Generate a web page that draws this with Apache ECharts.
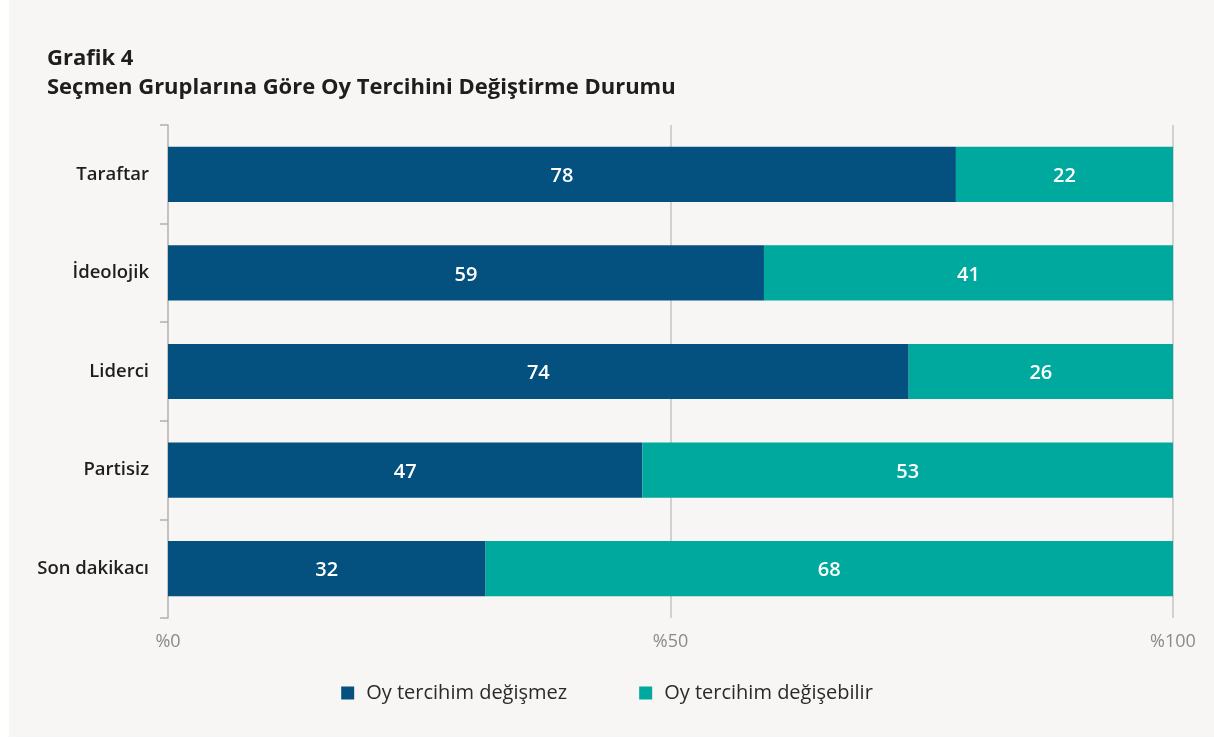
<!DOCTYPE html>
<html><head><meta charset="utf-8">
<script src="https://cdn.jsdelivr.net/npm/echarts@6/dist/echarts.min.js"></script>
<style>html,body{margin:0;padding:0;background:#fff}#c{width:1214px;height:739px}</style>
</head><body><div id="c"></div>
<script>
const categories = ['Taraftar', 'İdeolojik', 'Liderci', 'Partisiz', 'Son dakikacı'];
const seriesNames = ['Oy tercihim değişmez', 'Oy tercihim değişebilir'];
const unchanged = [78.4, 59.3, 73.7, 47.2, 31.6];
const changeable = [21.6, 40.7, 26.3, 52.8, 68.4];
const tickLabels = {0: '%0', 50: '%50', 100: '%100'};
const titleLines = ['Grafik 4', 'Seçmen Gruplarına Göre Oy Tercihini Değiştirme Durumu'];

const chart = echarts.init(document.getElementById('c'), null, {renderer: 'canvas'});
const font = '"Open Sans"';
const labelStyle = {show: true, position: 'inside', offset: [0, 2], color: '#fff', fontSize: 20, fontWeight: 600, fontFamily: font, formatter: p => Math.round(p.value)};
chart.setOption({
  backgroundColor: 'transparent',
  animation: false,
  graphic: [
    {type: 'rect', z: -10, shape: {x: 9, y: 0, width: 1205, height: 737}, style: {fill: '#f7f6f4'}},
    {type: 'text', left: 47, top: 44, style: {text: titleLines[0] + '\n' + titleLines[1], fill: '#1e1e1e', font: 'bold 22px ' + font, lineHeight: 29}}
  ],
  grid: {left: 168, right: 41, top: 125, bottom: 121},
  legend: {
    bottom: 31, left: 'center', itemGap: 72, itemWidth: 13, itemHeight: 13,
    icon: 'rect',
    textStyle: {fontSize: 20, color: '#2a2a2a', fontFamily: font, padding: [0, 0, 0, 7]},
    data: seriesNames
  },
  xAxis: {
    type: 'value', min: 0, max: 100, interval: 50,
    axisLine: {show: false}, axisTick: {show: false},
    axisLabel: {color: '#8a8a8a', fontSize: 18, fontFamily: font, margin: 15, formatter: v => tickLabels[v] ?? ''},
    splitLine: {show: true, lineStyle: {color: '#c4c4c4', width: 1.5}, showMinLine: false}
  },
  yAxis: {
    type: 'category', data: categories, inverse: true,
    axisLine: {show: true, lineStyle: {color: '#b0b0b0', width: 1.5}},
    axisTick: {show: true, inside: false, length: 8, lineStyle: {color: '#b0b0b0', width: 1.5}},
    axisLabel: {color: '#1e1e1e', fontSize: 18.5, fontWeight: 600, fontFamily: font, margin: 19}
  },
  series: [
    {name: seriesNames[0], type: 'bar', stack: 's', data: unchanged, barWidth: '56%', itemStyle: {color: '#04507f'}, label: labelStyle},
    {name: seriesNames[1], type: 'bar', stack: 's', data: changeable, barWidth: '56%', itemStyle: {color: '#00a99d'}, label: labelStyle}
  ]
});
</script></body></html>
